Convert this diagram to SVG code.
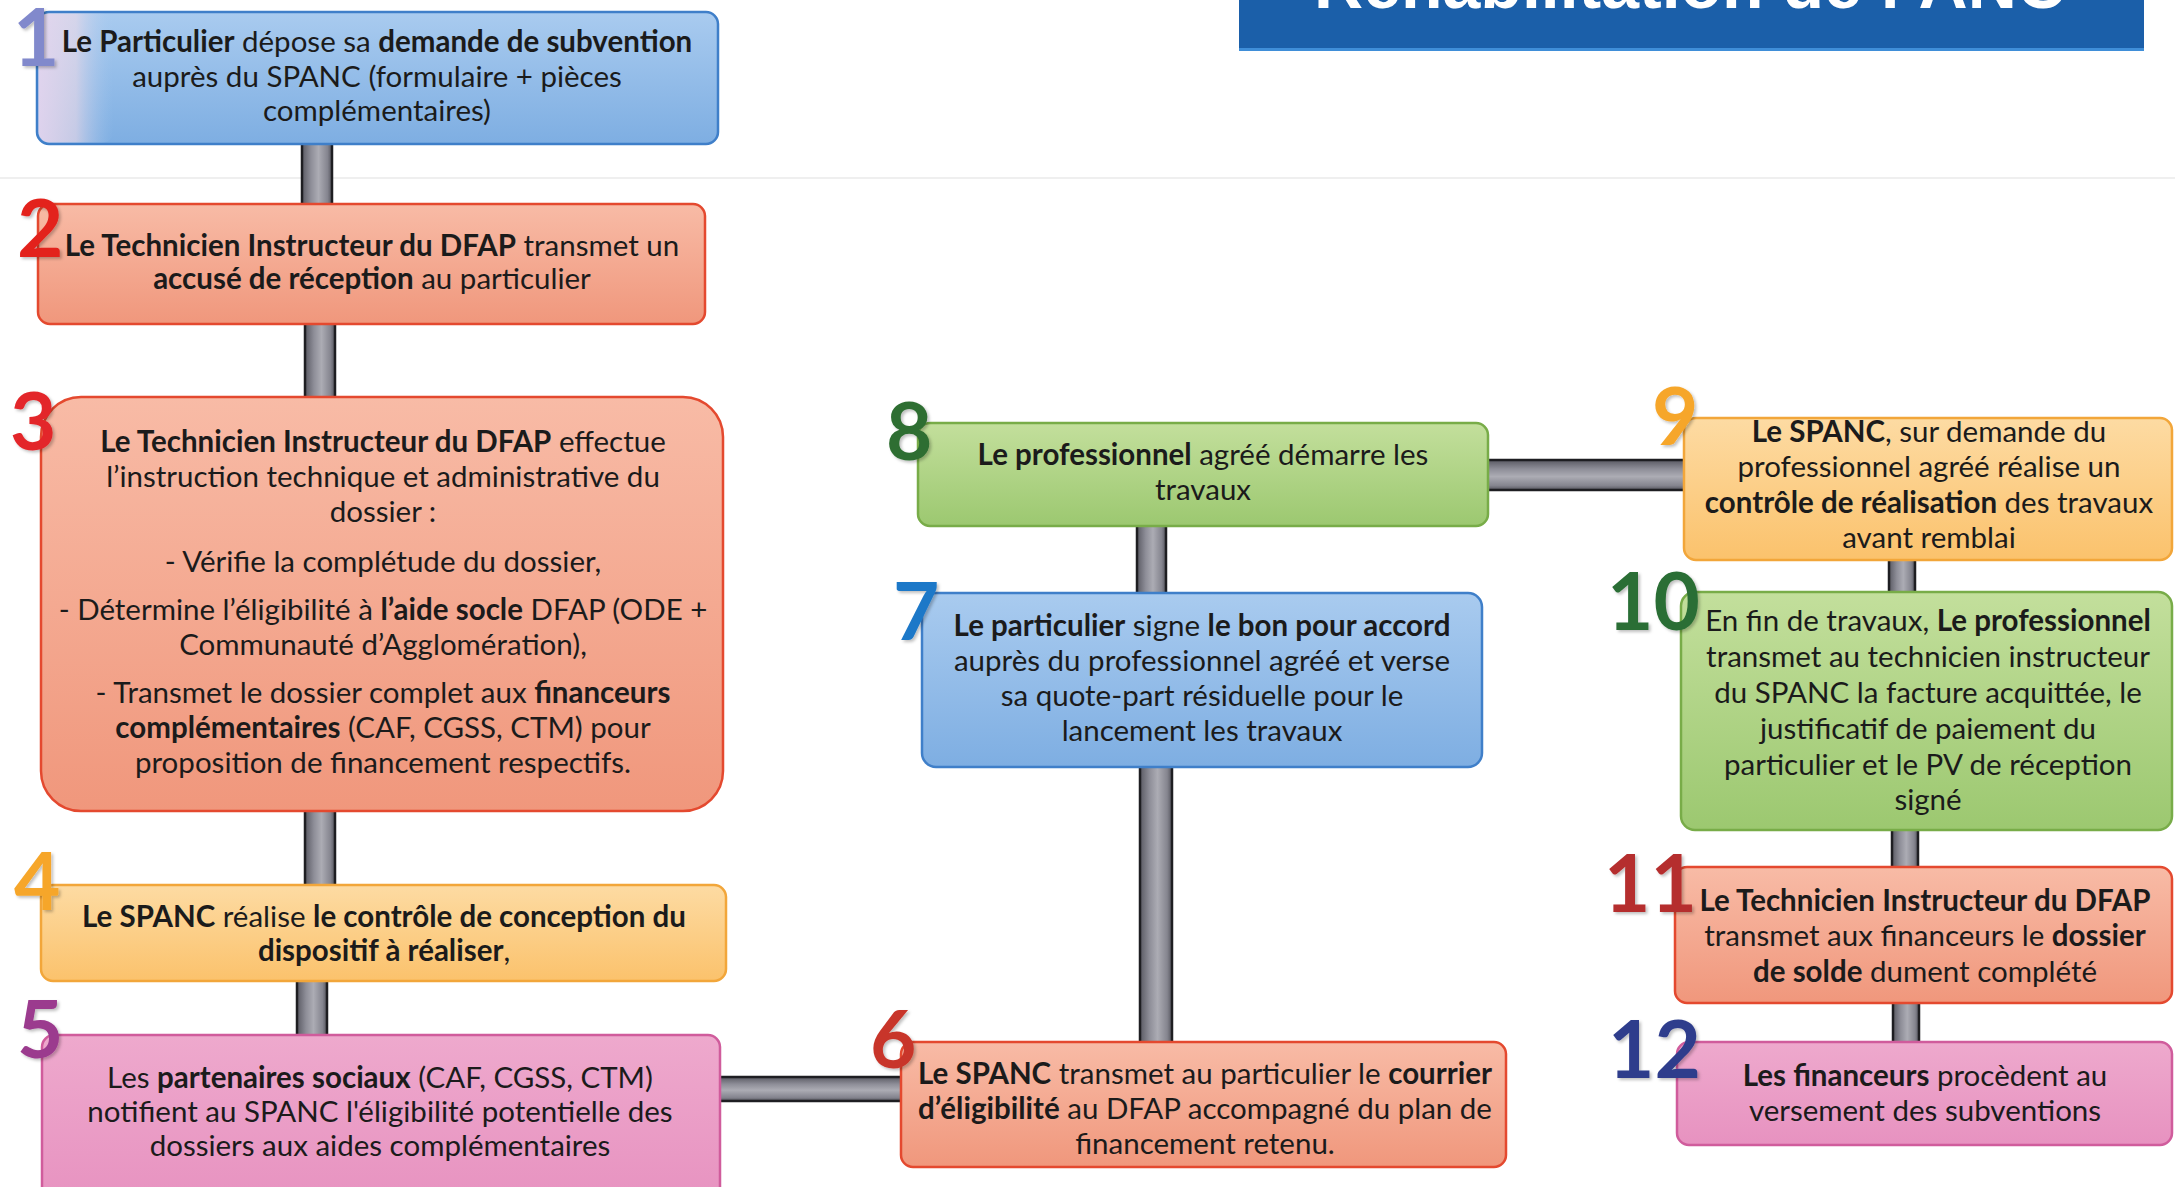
<svg xmlns="http://www.w3.org/2000/svg" width="2175" height="1187" viewBox="0 0 2175 1187">
<defs>
<linearGradient id="gBlue" x1="0" y1="0" x2="0" y2="1"><stop offset="0" stop-color="#a9cbef"/><stop offset="1" stop-color="#7eaee2"/></linearGradient>
<linearGradient id="gSalmon" x1="0" y1="0" x2="0" y2="1"><stop offset="0" stop-color="#f8bba6"/><stop offset="1" stop-color="#f0977c"/></linearGradient>
<linearGradient id="gOrange" x1="0" y1="0" x2="0" y2="1"><stop offset="0" stop-color="#fddba3"/><stop offset="1" stop-color="#fbc26c"/></linearGradient>
<linearGradient id="gPink" x1="0" y1="0" x2="0" y2="1"><stop offset="0" stop-color="#eea9cd"/><stop offset="1" stop-color="#e792c0"/></linearGradient>
<linearGradient id="gGreen" x1="0" y1="0" x2="0" y2="1"><stop offset="0" stop-color="#c3df9c"/><stop offset="1" stop-color="#9cc870"/></linearGradient>
<linearGradient id="gV" x1="0" y1="0" x2="1" y2="0"><stop offset="0" stop-color="#5a5a63"/><stop offset="0.3" stop-color="#8e8e98"/><stop offset="0.55" stop-color="#acacb4"/><stop offset="0.85" stop-color="#85858f"/><stop offset="1" stop-color="#55555e"/></linearGradient>
<linearGradient id="gH" x1="0" y1="0" x2="0" y2="1"><stop offset="0" stop-color="#5a5a63"/><stop offset="0.3" stop-color="#8e8e98"/><stop offset="0.55" stop-color="#acacb4"/><stop offset="0.85" stop-color="#85858f"/><stop offset="1" stop-color="#55555e"/></linearGradient>
<linearGradient id="gStripe" x1="0" y1="0" x2="1" y2="0"><stop offset="0" stop-color="#e8d6ee" stop-opacity="0.9"/><stop offset="0.5" stop-color="#f3dce8" stop-opacity="0.6"/><stop offset="1" stop-color="#a9cbef" stop-opacity="0"/></linearGradient>
<filter id="sh" x="-10%" y="-10%" width="130%" height="130%"><feDropShadow dx="2" dy="2" stdDeviation="1.5" flood-color="#000" flood-opacity="0.25"/></filter>
</defs>
<style>
.t{font-family:Lato,"Open Sans","Liberation Sans",sans-serif;font-size:29.5px;fill:#1b1b1b;text-anchor:middle}
.b{font-weight:700}
.n{font-family:Lato,"Liberation Sans",sans-serif;font-weight:700;font-size:80px;filter:url(#sh)}
.box{stroke-width:2.5}
.blue{fill:url(#gBlue);stroke:#3f7fc9}
.salmon{fill:url(#gSalmon);stroke:#e4492f}
.orange{fill:url(#gOrange);stroke:#f2a63a}
.pink{fill:url(#gPink);stroke:#d05c9c}
.green{fill:url(#gGreen);stroke:#78ac48}
.cv{fill:url(#gV);stroke:#1e1e22;stroke-width:2.5}
.ch{fill:url(#gH);stroke:#1e1e22;stroke-width:2.5}
.title{font-family:"Liberation Sans",Arial,sans-serif;font-weight:700;font-size:68px;fill:#ffffff;text-anchor:middle}
</style>
<rect x="0" y="0" width="2175" height="1187" fill="#ffffff"/>
<line x1="0" y1="178" x2="2175" y2="178" stroke="#efefef" stroke-width="2"/>

<g id="title">
<rect x="1239" y="-5" width="905" height="56" fill="#1b5fa9"/>
<rect x="1239" y="48" width="905" height="3" fill="#3f8ed8"/>
<text class="title" x="1690" y="8">Réhabilitation de l’ANC</text>
</g>

<g id="connectors">
<rect class="cv" x="302" y="130" width="30" height="85"/>
<rect class="cv" x="305" y="315" width="30" height="90"/>
<rect class="cv" x="305" y="800" width="30" height="95"/>
<rect class="cv" x="297" y="972" width="30" height="70"/>
<rect class="ch" x="710" y="1077" width="200" height="24"/>
<rect class="cv" x="1140" y="755" width="32" height="295"/>
<rect class="cv" x="1137" y="515" width="29" height="85"/>
<rect class="ch" x="1480" y="460" width="210" height="30"/>
<rect class="cv" x="1889" y="550" width="26" height="50"/>
<rect class="cv" x="1892" y="820" width="26" height="55"/>
<rect class="cv" x="1893" y="995" width="26" height="55"/>
</g>

<g id="node1">
<rect class="box blue" x="37" y="12" width="681" height="132" rx="12"/>
<rect x="38.5" y="13.5" width="75" height="129" rx="11" fill="url(#gStripe)"/>
<text class="n" x="13" y="66" fill="#8189cc">1</text>
<text class="t" x="377" y="52"><tspan class="b">Le Particulier</tspan> dépose sa <tspan class="b">demande de subvention</tspan></text>
<text class="t" x="377" y="87">auprès du SPANC (formulaire + pièces</text>
<text class="t" x="377" y="121">complémentaires)</text>
</g>

<g id="node2">
<rect class="box salmon" x="38" y="204" width="667" height="120" rx="12"/>
<text class="n" x="17" y="257" fill="#e3231f">2</text>
<text class="t" x="372" y="256"><tspan class="b">Le Technicien Instructeur du DFAP</tspan> transmet un</text>
<text class="t" x="372" y="289"><tspan class="b">accusé de réception</tspan> au particulier</text>
</g>

<g id="node3">
<rect class="box salmon" x="41" y="397" width="682" height="414" rx="40"/>
<text class="n" x="10" y="450" fill="#e3272a">3</text>
<text class="t" x="383" y="452"><tspan class="b">Le Technicien Instructeur du DFAP</tspan> effectue</text>
<text class="t" x="383" y="487">l’instruction technique et administrative du</text>
<text class="t" x="383" y="522">dossier :</text>
<text class="t" x="383" y="572">- Vérifie la complétude du dossier,</text>
<text class="t" x="383" y="620">- Détermine l’éligibilité à <tspan class="b">l’aide socle</tspan> DFAP (ODE +</text>
<text class="t" x="383" y="655">Communauté d’Agglomération),</text>
<text class="t" x="383" y="703">- Transmet le dossier complet aux <tspan class="b">financeurs</tspan></text>
<text class="t" x="383" y="738"><tspan class="b">complémentaires</tspan> (CAF, CGSS, CTM) pour</text>
<text class="t" x="383" y="773">proposition de financement respectifs.</text>
</g>

<g id="node4">
<rect class="box orange" x="41" y="885" width="685" height="96" rx="12"/>
<text class="n" x="14" y="910" fill="#f6a62b">4</text>
<text class="t" x="384" y="927"><tspan class="b">Le SPANC</tspan> réalise <tspan class="b">le contrôle de conception du</tspan></text>
<text class="t" x="384" y="961"><tspan class="b">dispositif à réaliser</tspan>,</text>
</g>

<g id="node5">
<rect class="box pink" x="42" y="1035" width="678" height="170" rx="12"/>
<text class="n" x="17" y="1058" fill="#9b3a8e">5</text>
<text class="t" x="380" y="1088">Les <tspan class="b">partenaires sociaux</tspan> (CAF, CGSS, CTM)</text>
<text class="t" x="380" y="1122">notifient au SPANC l'éligibilité potentielle des</text>
<text class="t" x="380" y="1156">dossiers aux aides complémentaires</text>
</g>

<g id="node6">
<rect class="box salmon" x="901" y="1042" width="605" height="125" rx="12"/>
<text class="n" x="870" y="1068" fill="#c8352a">6</text>
<text class="t" x="1205" y="1084"><tspan class="b">Le SPANC</tspan> transmet au particulier le <tspan class="b">courrier</tspan></text>
<text class="t" x="1205" y="1119"><tspan class="b">d’éligibilité</tspan> au DFAP accompagné du plan de</text>
<text class="t" x="1205" y="1154">financement retenu.</text>
</g>

<g id="node7">
<rect class="box blue" x="922" y="593" width="560" height="174" rx="14"/>
<text class="n" x="893" y="640" fill="#1e78c8">7</text>
<text class="t" x="1202" y="636"><tspan class="b">Le particulier</tspan> signe <tspan class="b">le bon pour accord</tspan></text>
<text class="t" x="1202" y="671">auprès du professionnel agréé et verse</text>
<text class="t" x="1202" y="706">sa quote-part résiduelle pour le</text>
<text class="t" x="1202" y="741">lancement les travaux</text>
</g>

<g id="node8">
<rect class="box green" x="918" y="423" width="570" height="103" rx="12"/>
<text class="n" x="886" y="460" fill="#2f6e32">8</text>
<text class="t" x="1203" y="465"><tspan class="b">Le professionnel</tspan> agréé démarre les</text>
<text class="t" x="1203" y="500">travaux</text>
</g>

<g id="node9">
<rect class="box orange" x="1684" y="418" width="488" height="142" rx="12"/>
<text class="n" x="1652" y="445" fill="#f6a62b">9</text>
<text class="t" x="1929" y="442"><tspan class="b">Le SPANC</tspan>, sur demande du</text>
<text class="t" x="1929" y="477">professionnel agréé réalise un</text>
<text class="t" x="1929" y="513"><tspan class="b">contrôle de réalisation</tspan> des travaux</text>
<text class="t" x="1929" y="548">avant remblai</text>
</g>

<g id="node10">
<rect class="box green" x="1681" y="592" width="491" height="238" rx="14"/>
<text class="n" x="1607" y="630" fill="#2a6e35">10</text>
<text class="t" x="1928" y="631">En fin de travaux, <tspan class="b">Le professionnel</tspan></text>
<text class="t" x="1928" y="667">transmet au technicien instructeur</text>
<text class="t" x="1928" y="703">du SPANC la facture acquittée, le</text>
<text class="t" x="1928" y="739">justificatif de paiement du</text>
<text class="t" x="1928" y="775">particulier et le PV de réception</text>
<text class="t" x="1928" y="810">signé</text>
</g>

<g id="node11">
<rect class="box salmon" x="1675" y="867" width="497" height="136" rx="12"/>
<text class="n" x="1604" y="912" fill="#b52e2e">11</text>
<text class="t" x="1925" y="911"><tspan class="b">Le Technicien Instructeur du DFAP</tspan></text>
<text class="t" x="1925" y="946">transmet aux financeurs le <tspan class="b">dossier</tspan></text>
<text class="t" x="1925" y="982"><tspan class="b">de solde</tspan> dument complété</text>
</g>

<g id="node12">
<rect class="box pink" x="1677" y="1042" width="495" height="103" rx="12"/>
<text class="n" x="1608" y="1078" fill="#2e3d8c">12</text>
<text class="t" x="1925" y="1086"><tspan class="b">Les financeurs</tspan> procèdent au</text>
<text class="t" x="1925" y="1121">versement des subventions</text>
</g>
</svg>
